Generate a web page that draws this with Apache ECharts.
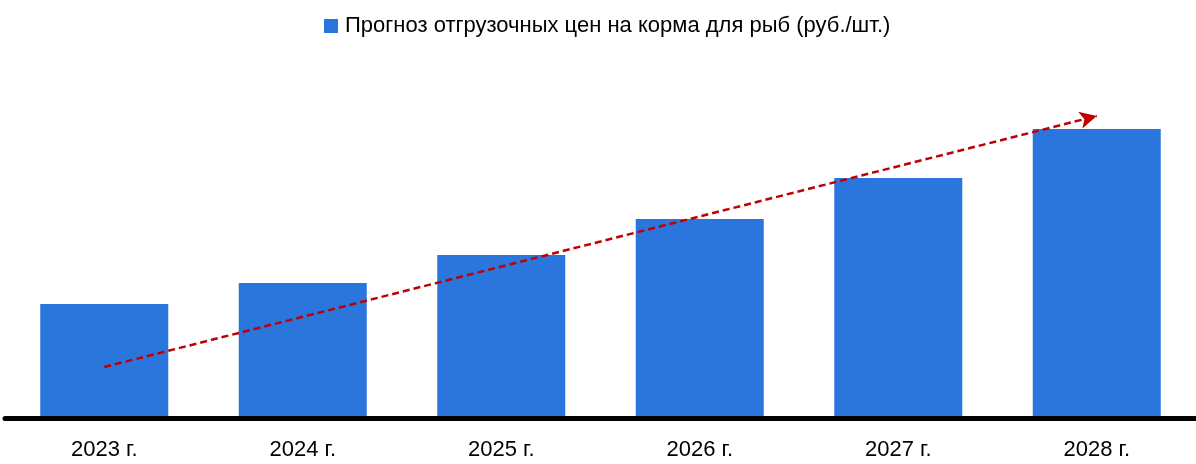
<!DOCTYPE html>
<html>
<head>
<meta charset="utf-8">
<script src="https://cdn.jsdelivr.net/npm/echarts@6/dist/echarts.min.js"></script>
<style>
  html, body { margin: 0; padding: 0; background: #fff; }
  #main { width: 1196px; height: 464px; }
</style>
</head>
<body>
<div id="main"></div>
<script>
// данные
var years = ['2023 г.', '2024 г.', '2025 г.', '2026 г.', '2027 г.', '2028 г.'];
var prices = [114, 135, 163, 199, 240, 289];
var trendFrom = [0, 51];
var trendTo = [5, 302];
var seriesName = 'Прогноз отгрузочных цен на корма для рыб (руб./шт.)';

var font = '"Liberation Sans Narrow", "Arial Narrow", "Liberation Sans", Arial, sans-serif';

var chart = echarts.init(document.getElementById('main'));
chart.setOption({
  animation: false,
  legend: {
    top: 10,
    left: 319,
    icon: 'rect',
    itemWidth: 14,
    itemHeight: 14,
    textStyle: { fontFamily: font, fontSize: 22, color: '#000', padding: [0, 0, 0, 2] },
    data: [seriesName]
  },
  grid: { left: 5, right: -3, top: 60, bottom: 46 },
  xAxis: {
    type: 'category',
    data: years,
    z: 5,
    axisLine: { lineStyle: { color: '#000', width: 5 } },
    axisTick: { show: false },
    axisLabel: { fontFamily: font, fontSize: 22, color: '#000', margin: 21 }
  },
  yAxis: {
    type: 'value',
    min: 0,
    max: 358,
    show: false,
    splitLine: { show: false }
  },
  series: [{
    name: seriesName,
    type: 'bar',
    barWidth: 128,
    data: prices,
    itemStyle: { color: '#2a76dd' },
    markLine: {
      silent: true,
      symbol: ['none', 'arrow'],
      symbolSize: [13, 17],
      label: { show: false },
      lineStyle: { color: '#c00000', type: [7, 4], width: 2.5 },
      data: [[
        { coord: trendFrom },
        { coord: trendTo }
      ]]
    }
  }]
});
</script>
</body>
</html>
